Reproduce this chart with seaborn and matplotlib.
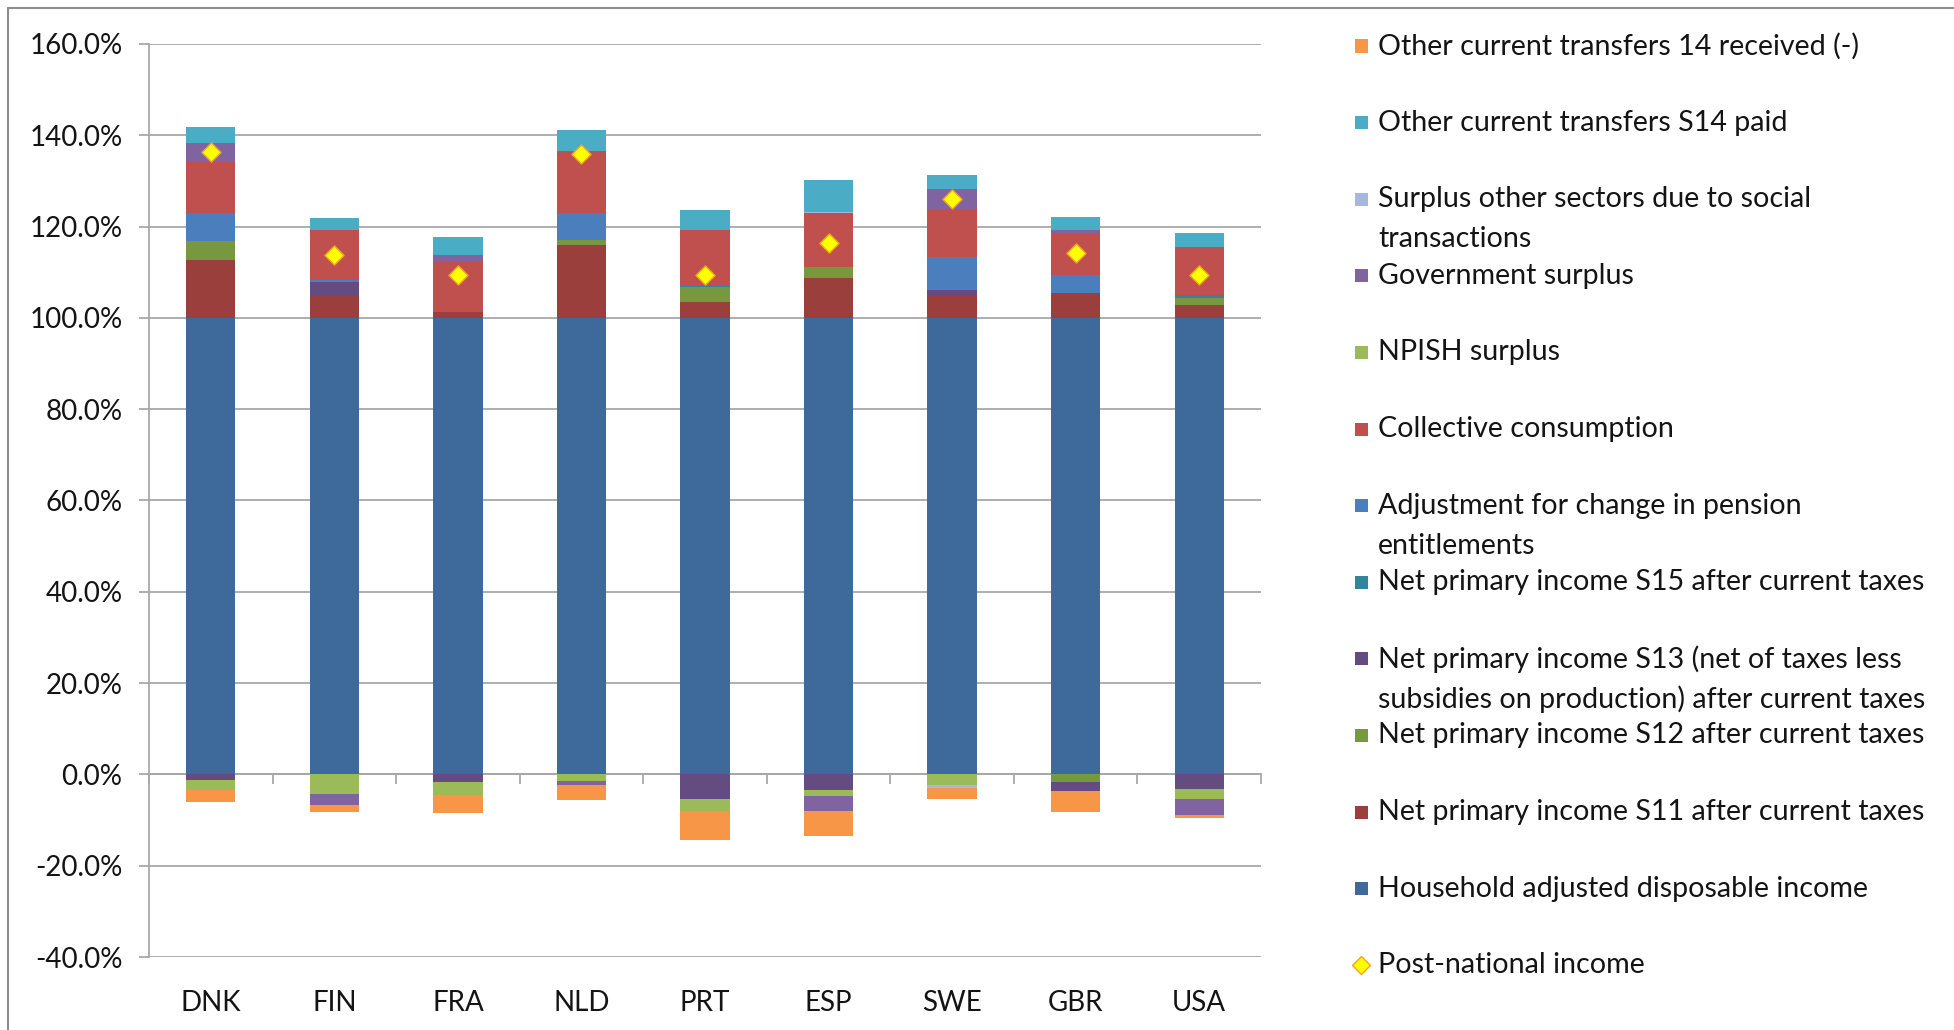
import numpy as np
import pandas as pd
import matplotlib
matplotlib.use("Agg")
import matplotlib.pyplot as plt
from matplotlib.patches import Rectangle
from matplotlib.lines import Line2D
import seaborn as sns

# ---- data (percent of net national income) ----
countries = ["DNK", "FIN", "FRA", "NLD", "PRT", "ESP", "SWE", "GBR", "USA"]

household     = [100.0, 100.0, 100.0, 100.0, 100.0, 100.0, 100.0, 100.0, 100.0]
s11           = [12.7, 4.8, 1.3, 15.9, 3.5, 8.7, 4.8, 5.4, 2.8]
s12           = [4.1, 0.0, 0.0, 1.1, 3.3, 2.4, 0.0, -1.7, 1.6]
s13           = [-1.2, 3.1, -1.6, 0.0, -5.3, -3.5, 1.3, -1.9, -3.1]
s15           = [0.0, 0.0, 0.0, 0.0, 0.4, 0.0, 0.0, 0.0, 0.7]
pension_adj   = [6.2, 0.3, 0.0, 6.0, 0.0, 0.0, 7.3, 3.9, 0.0]
collective    = [11.2, 11.0, 11.2, 13.6, 12.0, 11.8, 10.5, 9.3, 10.4]
npish         = [-2.2, -4.3, -2.9, -1.4, -2.8, -1.3, -2.3, 0.0, -2.2]
government    = [4.2, -2.5, 1.3, -0.9, 0.0, -3.3, 4.4, 0.6, -3.5]
surplus_other = [0.0, 0.0, 0.0, 0.0, 0.0, 0.3, -0.6, 0.0, 0.0]
s14_paid      = [3.5, 2.6, 4.0, 4.6, 4.4, 7.0, 2.9, 3.0, 3.2]
s14_received  = [-2.6, -1.4, -3.9, -3.4, -6.2, -5.3, -2.5, -4.6, -0.7]
post_national = [136.3, 113.8, 109.5, 136.0, 109.3, 116.5, 126.1, 114.3, 109.5]

# stacking order, bottom to top
series = [
    ("Household adjusted disposable income", household, "#3E6A9B"),
    ("Net primary income S11 after current taxes", s11, "#9B3F3C"),
    ("Net primary income S12 after current taxes", s12, "#789840"),
    ("Net primary income S13 (net of taxes less\nsubsidies on production) after current taxes", s13, "#644C80"),
    ("Net primary income S15 after current taxes", s15, "#31869D"),
    ("Adjustment for change in pension\nentitlements", pension_adj, "#4B7EBC"),
    ("Collective consumption", collective, "#C0504D"),
    ("NPISH surplus", npish, "#9BBB59"),
    ("Government surplus", government, "#8064A2"),
    ("Surplus other sectors due to social\ntransactions", surplus_other, "#A7B9DB"),
    ("Other current transfers S14 paid", s14_paid, "#4BACC6"),
    ("Other current transfers 14 received (-)", s14_received, "#F79646"),
]
post_label = "Post-national income"

sns.set_theme(style="white")
plt.rcParams["font.family"] = ["Lato", "DejaVu Sans"]

W, H = 1954, 1030
fig = plt.figure(figsize=(W / 100, H / 100), dpi=100)
fig.patch.set_facecolor("white")
ax = fig.add_axes([149 / W, 1 - 957 / H, (1261 - 149) / W, (957 - 44) / H])

df = pd.DataFrame({name: vals for name, vals, _ in series}, index=countries)
names = [name for name, _, _ in series]
colors = {name: c for name, _, c in series}
pos_cum = df.clip(lower=0).cumsum(axis=1)
neg_cum = df.clip(upper=0).cumsum(axis=1)

bar_w = 0.40
# positive and negative stacks: outermost layer first, inner layers drawn over it
for cum in (pos_cum, neg_cum):
    for name in reversed(names):
        sns.barplot(x=countries, y=cum[name].values, color=colors[name],
                    saturation=1, width=bar_w, errorbar=None, linewidth=0,
                    ax=ax, zorder=3)

sns.scatterplot(x=countries, y=post_national, marker="D", s=95,
                color="#FFFF00", edgecolor="#F2A51A", linewidth=1.0,
                ax=ax, zorder=5, legend=False)

grid_c = "#A8A8A8"
ax.set_xlim(-0.5, 8.5)
ax.set_ylim(-40, 160)
yt = np.arange(-40, 161, 20)
ax.set_yticks(yt)
ax.set_yticklabels([f"{v:.1f}%" for v in yt])
ax.yaxis.grid(True, color=grid_c, linewidth=1.3)
ax.xaxis.grid(False)
ax.set_axisbelow(True)
for s in ("top", "right", "bottom"):
    ax.spines[s].set_visible(False)
ax.spines["left"].set_color(grid_c)
ax.spines["left"].set_linewidth(1.3)
ax.tick_params(axis="y", left=True, length=7, width=1.3, color=grid_c,
               pad=12, labelsize=20, labelcolor="#141414")
ax.tick_params(axis="x", bottom=False, length=0, pad=24, labelsize=20,
               labelcolor="#141414")
ax.set_xlabel("")
ax.set_ylabel("")

# category axis at 0% with tick marks between categories
sec = ax.secondary_xaxis(0.2)
sec.set_xticks(np.arange(-0.5, 9.0, 1.0))
sec.tick_params(axis="x", length=7, width=1.3, color=grid_c, labelbottom=False,
                labeltop=False)
for s in sec.spines.values():
    s.set_color(grid_c)
    s.set_linewidth(1.3)

# legend (reverse stacking order, fixed row slots)
def fx(px):
    return px / W

def fy(py):
    return 1 - py / H

slot0, slot_step, line_step = 46, 76.6, 40
box = 13
legend_fs = 20.6
for i, name in enumerate(reversed(names)):
    yc = slot0 + slot_step * i
    fig.add_artist(Rectangle((fx(1355), fy(yc + box / 2)), box / W, box / H,
                             transform=fig.transFigure, facecolor=colors[name],
                             edgecolor="none"))
    for k, line in enumerate(name.split("\n")):
        fig.text(fx(1378), fy(yc + k * line_step), line, ha="left", va="center",
                 fontsize=legend_fs, color="#141414")
yc = slot0 + slot_step * len(names)
fig.add_artist(Line2D([fx(1361)], [fy(yc)], marker="D", markersize=9,
                      markerfacecolor="#FFFF00", markeredgecolor="#F2A51A",
                      markeredgewidth=1.0, linestyle="none",
                      transform=fig.transFigure))
fig.text(fx(1378), fy(yc), post_label, ha="left", va="center", fontsize=legend_fs,
         color="#141414")

# chart-area frame (top and left edges)
fig.add_artist(Line2D([fx(8), fx(8)], [0, fy(8)], color="#8C8C8C", linewidth=1.5,
                      transform=fig.transFigure))
fig.add_artist(Line2D([fx(8), 1], [fy(8), fy(8)], color="#8C8C8C", linewidth=1.5,
                      transform=fig.transFigure))

fig.savefig("out.png", dpi=100, facecolor="white")
